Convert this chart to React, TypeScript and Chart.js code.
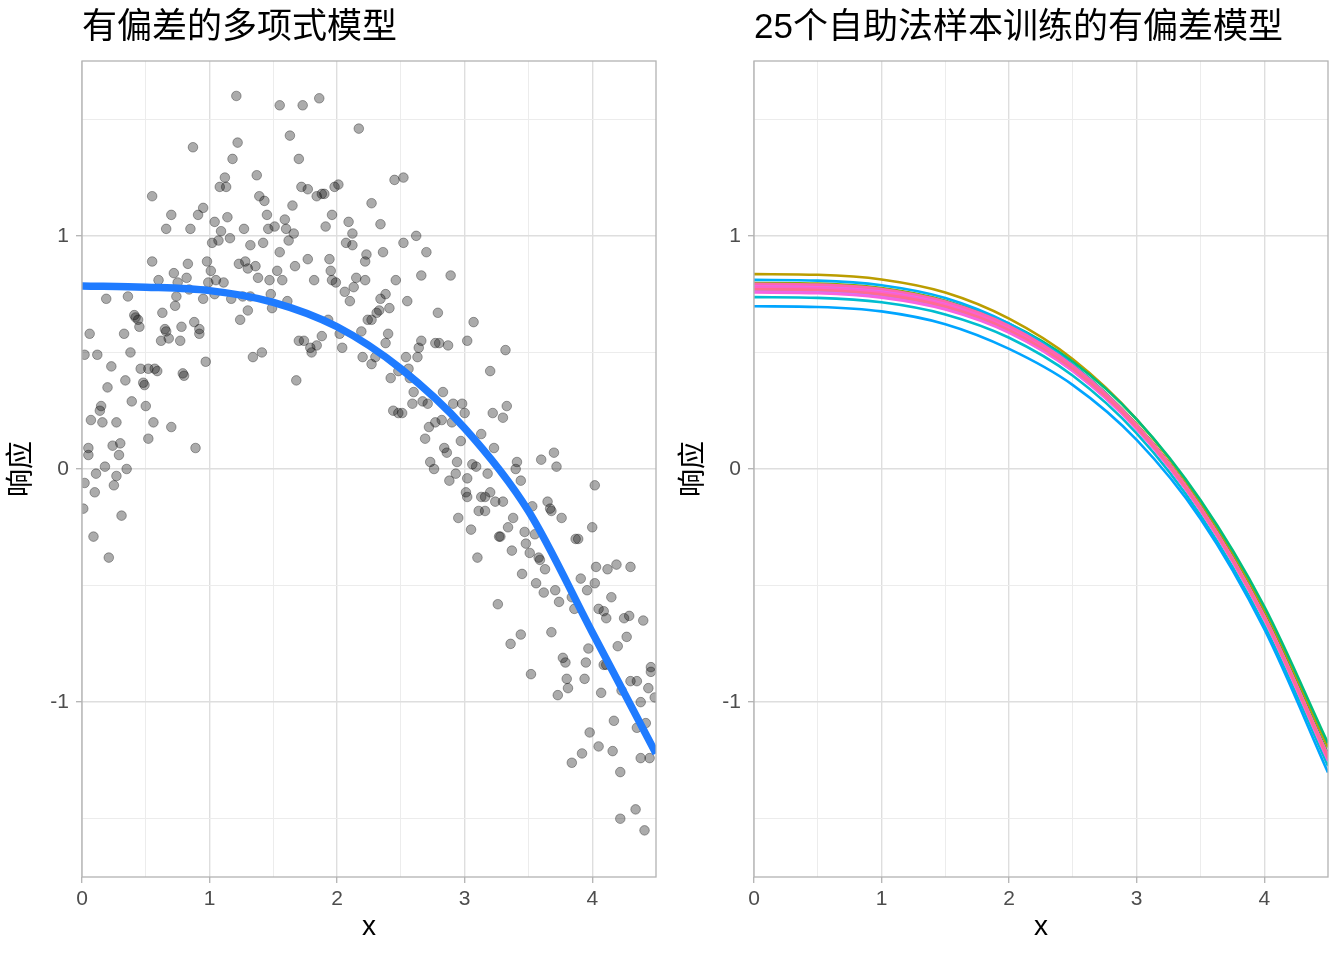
import React, { useEffect, useRef } from 'react';
import { Chart, registerables } from 'chart.js';

Chart.register(...registerables);

// ---------------- data ----------------
const scatterX = [
  0.55, 0.70, 0.66, 0.85, 0.91, 0.95, 1.04, 1.14, 1.09, 1.16, 1.07, 1.02, 1.27, 1.32, 1.42, 1.39, 1.43, 1.45, 1.46, 1.12,
  1.08, 1.13, 0.55, 0.72, 0.83, 0.82, 0.60, 0.75, 0.98, 1.01, 0.99, 1.05, 1.11, 1.23, 1.28, 1.30, 1.36, 1.38, 1.47, 0.74,
  0.73, 0.84, 0.95, 1.04, 1.17, 1.26, 1.32, 1.30, 1.24, 1.49, 0.19, 0.36, 0.41, 0.42, 0.44, 0.45, 0.63, 0.65, 0.66, 0.62,
  0.68, 0.78, 0.77, 0.88, 0.92, 0.92, 0.06, 0.33, 0.02, 0.12, 0.38, 0.23, 0.46, 0.52, 0.59, 0.57, 0.80, 0.79, 0.97, 0.34,
  0.20, 0.48, 0.49, 0.39, 0.50, 0.15, 0.14, 0.07, 0.16, 0.27, 0.56, 0.70, 0.52, 0.89, 0.05, 0.05, 0.24, 0.30, 0.29, 0.35,
  0.18, 0.11, 0.02, 0.27, 0.25, 0.10, 0.01, 0.31, 0.09, 0.21,
  1.21, 1.55, 1.73, 1.86, 2.17, 1.63, 0.87, 1.22, 1.18, 1.70, 1.37, 1.72, 1.77, 1.84, 1.88, 1.90, 1.98, 2.01, 2.27, 1.65,
  1.96, 1.91, 2.09, 2.12, 2.07, 2.12, 2.23, 2.22, 1.51, 1.59, 1.60, 1.62, 1.66, 1.55, 1.53, 1.57, 1.67, 1.77, 1.94, 1.95,
  1.82, 1.96, 1.99, 2.06, 2.10, 2.13, 2.15, 2.22, 1.48, 1.61, 1.70, 1.74, 1.79, 1.80, 1.84, 1.88, 1.68, 1.93, 2.02, 2.04,
  2.19, 2.20, 2.27, 2.24, 2.27, 2.31, 2.33, 1.34, 1.41,
  2.45, 2.52, 2.34, 2.52, 2.62, 2.70, 2.36, 2.46, 2.66, 2.89, 2.55, 2.79, 2.34, 2.38, 2.41, 2.40, 2.38, 2.30, 2.54, 2.63,
  2.64, 2.66, 2.77, 2.80, 2.87, 3.02, 2.42, 2.48, 2.56, 2.57, 2.60, 2.67, 2.71, 2.59, 2.83, 2.91, 2.98, 3.00, 2.44, 2.48,
  2.51, 2.82, 2.77, 2.72, 2.69, 2.90, 2.97, 2.84, 2.86, 2.73, 2.76, 2.94, 2.93, 3.07,
  3.32, 3.20, 3.22, 3.33, 3.30, 3.13, 3.23, 2.88, 3.02, 3.06, 3.09, 3.18, 3.20, 3.16, 3.24, 3.30, 3.01, 3.02, 3.13, 3.41,
  3.40, 3.44, 3.60, 3.70, 3.72, 4.02, 2.95, 3.05, 3.11, 3.16, 3.27, 3.28, 3.34, 3.38, 3.10, 3.37, 3.47, 3.55, 3.48, 3.51,
  3.65, 3.67, 3.68, 3.53, 3.76, 3.58, 3.59, 3.45, 3.63, 3.56, 3.62, 3.71, 3.74, 3.84, 3.86, 3.87, 3.89, 4.00, 3.91, 3.96,
  4.02, 4.03, 4.12, 4.19, 4.30, 4.15, 4.05, 4.09, 4.11, 4.25, 4.29, 4.40, 4.27, 4.20, 3.97, 3.95, 3.94, 3.77, 3.79, 3.80,
  3.81, 3.73, 4.11, 4.09, 3.52, 3.36, 3.44, 3.68, 3.26, 4.07, 4.30, 4.35, 4.44, 4.46, 4.46, 4.23, 4.38, 4.42, 4.35, 4.17,
  3.98, 4.05, 4.16, 3.92, 3.84, 4.22, 4.38, 4.45, 4.34, 4.22, 4.41, 4.49,
];
const scatterY = [
  1.17, 1.09, 1.03, 1.03, 1.09, 1.12, 1.06, 1.08, 1.02, 0.99, 0.98, 0.97, 1.03, 0.96, 0.97, 1.17, 1.15, 1.09, 1.03, 1.25,
  1.21, 1.21, 0.89, 0.84, 0.88, 0.82, 0.81, 0.80, 0.89, 0.85, 0.80, 0.81, 0.80, 0.88, 0.89, 0.86, 0.87, 0.82, 0.81, 0.74,
  0.70, 0.77, 0.73, 0.75, 0.73, 0.74, 0.74, 0.68, 0.64, 0.69, 0.73, 0.74, 0.66, 0.65, 0.64, 0.61, 0.67, 0.60, 0.59, 0.55,
  0.56, 0.61, 0.55, 0.63, 0.60, 0.58, 0.58, 0.58, 0.49, 0.49, 0.50, 0.44, 0.43, 0.43, 0.42, 0.43, 0.40, 0.41, 0.46, 0.38,
  0.35, 0.37, 0.36, 0.29, 0.27, 0.27, 0.25, 0.21, 0.20, 0.20, 0.20, 0.18, 0.13, 0.09, 0.09, 0.06, 0.10, 0.11, 0.06, 0.00,
  0.01, -0.02, -0.06, -0.03, -0.07, -0.10, -0.17, -0.20, -0.29, -0.38,
  1.60, 1.56, 1.56, 1.59, 1.46, 1.43, 1.38, 1.40, 1.33, 1.33, 1.26, 1.21, 1.20, 1.17, 1.18, 1.18, 1.21, 1.22, 1.14, 1.13,
  1.09, 1.04, 1.06, 1.01, 0.97, 0.96, 0.92, 0.89, 1.04, 1.07, 1.03, 0.98, 1.01, 0.93, 0.85, 0.81, 0.87, 0.90, 0.90, 0.85,
  0.81, 0.81, 0.80, 0.76, 0.72, 0.78, 0.82, 0.81, 0.75, 0.72, 0.55, 0.55, 0.52, 0.50, 0.53, 0.57, 0.38, 0.64, 0.58, 0.52,
  0.59, 0.48, 0.45, 0.64, 0.64, 0.67, 0.68, 0.48, 0.50,
  1.24, 1.25, 1.05, 0.97, 1.00, 0.93, 0.93, 0.81, 0.83, 0.83, 0.72, 0.67, 0.73, 0.75, 0.69, 0.58, 0.54, 0.48, 0.48, 0.48,
  0.52, 0.55, 0.54, 0.54, 0.53, 0.55, 0.39, 0.42, 0.43, 0.39, 0.33, 0.29, 0.28, 0.28, 0.33, 0.28, 0.28, 0.24, 0.25, 0.24,
  0.24, 0.21, 0.20, 0.18, 0.13, 0.20, 0.12, 0.09, 0.07, 0.03, 0.00, 0.03, -0.02, 0.63,
  0.51, 0.42, 0.24, 0.27, 0.22, 0.15, 0.09, -0.05, -0.04, 0.02, 0.01, -0.02, -0.10, -0.12, -0.14, -0.14, -0.10, -0.12, -0.12, 0.03,
  0.00, -0.05, 0.04, 0.07, 0.01, -0.07, -0.21, -0.26, -0.18, -0.18, -0.29, -0.29, -0.25, -0.21, -0.38, -0.35, -0.27, -0.28, -0.32, -0.36,
  -0.14, -0.17, -0.18, -0.16, -0.21, -0.38, -0.39, -0.45, -0.43, -0.49, -0.53, -0.52, -0.57, -0.55, -0.60, -0.30, -0.30, -0.25, -0.47, -0.52,
  -0.49, -0.42, -0.43, -0.41, -0.42, -0.55, -0.60, -0.61, -0.64, -0.64, -0.63, -0.65, -0.72, -0.76, -0.77, -0.83, -0.90, -0.81, -0.83, -0.90,
  -0.94, -0.97, -0.84, -0.84, -0.88, -0.75, -0.71, -0.70, -0.58, -0.96, -0.91, -0.91, -0.94, -0.85, -0.87, -0.95, -1.00, -1.09, -1.11, -1.08,
  -1.13, -1.19, -1.21, -1.22, -1.26, -1.30, -1.24, -1.24, -1.46, -1.50, -1.55, -0.98,
];

const curveX = [0, 0.5, 1, 1.5, 2, 2.5, 3, 3.5, 4, 4.5];
const fitY = [0.785, 0.780, 0.765, 0.715, 0.610, 0.430, 0.175, -0.180, -0.700, -1.220];

const bootCurves: number[][] = [
  [0.780, 0.777, 0.758, 0.705, 0.605, 0.439, 0.189, -0.160, -0.626, -1.228],
  [0.768, 0.765, 0.746, 0.694, 0.593, 0.426, 0.176, -0.174, -0.639, -1.238],
  [0.792, 0.789, 0.770, 0.716, 0.612, 0.442, 0.188, -0.164, -0.631, -1.232],
  [0.774, 0.771, 0.752, 0.700, 0.599, 0.432, 0.181, -0.170, -0.637, -1.240],
  [0.836, 0.833, 0.813, 0.757, 0.645, 0.471, 0.213, -0.142, -0.604, -1.194],
  [0.786, 0.783, 0.764, 0.711, 0.608, 0.439, 0.186, -0.166, -0.633, -1.236],
  [0.798, 0.795, 0.776, 0.722, 0.618, 0.446, 0.191, -0.161, -0.628, -1.226],
  [0.764, 0.761, 0.742, 0.690, 0.590, 0.424, 0.175, -0.175, -0.641, -1.242],
  [0.781, 0.778, 0.759, 0.707, 0.606, 0.438, 0.187, -0.163, -0.627, -1.222],
  [0.772, 0.769, 0.750, 0.698, 0.597, 0.430, 0.179, -0.172, -0.639, -1.240],
  [0.790, 0.787, 0.769, 0.718, 0.623, 0.460, 0.213, -0.133, -0.589, -1.176],
  [0.784, 0.781, 0.762, 0.709, 0.607, 0.438, 0.186, -0.165, -0.631, -1.230],
  [0.777, 0.774, 0.755, 0.702, 0.601, 0.433, 0.182, -0.169, -0.635, -1.236],
  [0.737, 0.734, 0.715, 0.663, 0.563, 0.400, 0.153, -0.198, -0.669, -1.274],
  [0.766, 0.763, 0.744, 0.692, 0.592, 0.426, 0.177, -0.173, -0.638, -1.240],
  [0.811, 0.808, 0.788, 0.733, 0.623, 0.447, 0.187, -0.168, -0.638, -1.244],
  [0.698, 0.695, 0.676, 0.621, 0.515, 0.360, 0.125, -0.213, -0.686, -1.302],
  [0.769, 0.766, 0.747, 0.695, 0.594, 0.427, 0.177, -0.173, -0.639, -1.242],
  [0.783, 0.780, 0.761, 0.708, 0.606, 0.437, 0.185, -0.166, -0.632, -1.232],
  [0.761, 0.758, 0.739, 0.687, 0.587, 0.421, 0.172, -0.177, -0.643, -1.248],
  [0.789, 0.786, 0.767, 0.713, 0.610, 0.440, 0.187, -0.165, -0.631, -1.230],
  [0.757, 0.754, 0.735, 0.684, 0.584, 0.419, 0.171, -0.178, -0.645, -1.252],
  [0.779, 0.776, 0.757, 0.704, 0.603, 0.435, 0.183, -0.168, -0.634, -1.235],
  [0.794, 0.791, 0.772, 0.718, 0.614, 0.443, 0.189, -0.163, -0.630, -1.228],
  [0.771, 0.768, 0.749, 0.697, 0.596, 0.429, 0.179, -0.171, -0.637, -1.240],
];

const xTickValues = [0, 0.5, 1, 1.5, 2, 2.5, 3, 3.5, 4];
const yTickValues = [-1.5, -1, -0.5, 0, 0.5, 1, 1.5];
const leftTitle = '有偏差的多项式模型';
const rightTitle = '25个自助法样本训练的有偏差模型';
const xTitle = 'x';
const yTitle = '响应';

// ---------------- styling helpers ----------------
const FONT = "'Liberation Sans', 'Noto Sans CJK SC', sans-serif";

function hueColor(h: number, c = 100, l = 65): string {
  const hr = (h * Math.PI) / 180;
  const u = c * Math.cos(hr);
  const v = c * Math.sin(hr);
  const Xn = 0.95047, Yn = 1.0, Zn = 1.08883;
  const un = (4 * Xn) / (Xn + 15 * Yn + 3 * Zn);
  const vn = (9 * Yn) / (Xn + 15 * Yn + 3 * Zn);
  const Y = l > 8 ? Yn * Math.pow((l + 16) / 116, 3) : (Yn * l) / 903.3;
  const up = u / (13 * l) + un;
  const vp = v / (13 * l) + vn;
  const X = (Y * 9 * up) / (4 * vp);
  const Z = (Y * (12 - 3 * up - 20 * vp)) / (4 * vp);
  const lin = [
    3.2406 * X - 1.5372 * Y - 0.4986 * Z,
    -0.9689 * X + 1.8758 * Y + 0.0415 * Z,
    0.0557 * X - 0.204 * Y + 1.057 * Z,
  ];
  const out = lin.map((t) => {
    const g = t <= 0.0031308 ? 12.92 * t : 1.055 * Math.pow(t, 1 / 2.4) - 0.055;
    return Math.round(Math.min(1, Math.max(0, g)) * 255);
  });
  return `rgb(${out[0]},${out[1]},${out[2]})`;
}

const isMajor = (v: number) => Math.abs(v - Math.round(v)) < 1e-9;

const panelTitlePlugin = {
  id: 'panelTitle',
  afterDraw(chart: any, _args: any, opts: any) {
    const { ctx, chartArea } = chart;
    ctx.save();
    ctx.font = `35px ${FONT}`;
    ctx.fillStyle = '#000000';
    ctx.textAlign = 'left';
    ctx.textBaseline = 'middle';
    ctx.fillText(opts.text, chartArea.left, 28);
    ctx.restore();
  },
};

const framePlugin = {
  id: 'panelFrame',
  afterDatasetsDraw(chart: any) {
    const { ctx, chartArea } = chart;
    ctx.save();
    ctx.strokeStyle = '#b3b3b3';
    ctx.lineWidth = 1.3;
    ctx.strokeRect(chartArea.left, chartArea.top, chartArea.right - chartArea.left, chartArea.bottom - chartArea.top);
    ctx.restore();
  },
};

function makeScale(axis: 'x' | 'y') {
  const tickVals = axis === 'x' ? xTickValues : yTickValues;
  return {
    type: 'linear',
    min: axis === 'x' ? 0 : -1.75,
    max: axis === 'x' ? 4.5 : 1.75,
    afterBuildTicks: (s: any) => {
      s.ticks = tickVals.map((v) => ({ value: v }));
    },
    afterFit: (s: any) => {
      if (axis === 'x') s.height = 83;
      else s.width = 82;
    },
    ticks: {
      autoSkip: false,
      maxRotation: 0,
      color: '#4d4d4d',
      font: { family: FONT, size: 21 },
      padding: axis === 'x' ? 4 : 7,
      callback: (v: any) => (isMajor(Number(v)) ? String(v) : ''),
    },
    grid: {
      color: (ctx: any) => (ctx.tick && isMajor(ctx.tick.value) ? '#dedede' : '#ececec'),
      lineWidth: (ctx: any) => (ctx.tick && isMajor(ctx.tick.value) ? 1.4 : 1),
      tickColor: (ctx: any) => (ctx.tick && isMajor(ctx.tick.value) ? '#b3b3b3' : 'rgba(0,0,0,0)'),
      tickLength: 6,
      tickWidth: 1.3,
      drawTicks: true,
    },
    border: { display: false },
    title: {
      display: true,
      text: axis === 'x' ? xTitle : yTitle,
      color: '#000000',
      font: { family: FONT, size: 28 },
      padding: axis === 'x' ? { top: 0, bottom: 16 } : { top: 5, bottom: 0 },
    },
  };
}

function makeOptions(title: string) {
  return {
    responsive: false,
    maintainAspectRatio: false,
    animation: false,
    devicePixelRatio: 1,
    layout: { padding: { top: 61, right: 16, bottom: 0, left: 0 } },
    plugins: {
      legend: { display: false },
      tooltip: { enabled: false },
      panelTitle: { text: title },
    },
    scales: { x: makeScale('x'), y: makeScale('y') },
  };
}

function toPoints(xs: number[], ys: number[]) {
  return xs.map((x, i) => ({ x, y: ys[i] }));
}

function Panel({ which }: { which: 'left' | 'right' }) {
  const ref = useRef<HTMLCanvasElement | null>(null);
  useEffect(() => {
    if (!ref.current) return;
    let datasets: any[];
    if (which === 'left') {
      datasets = [
        {
          type: 'line',
          data: toPoints(curveX, fitY),
          borderColor: '#1f7bff',
          borderWidth: 7.5,
          pointRadius: 0,
          showLine: true,
          fill: false,
          cubicInterpolationMode: 'monotone',
          borderCapStyle: 'butt',
          clip: 0,
          order: 0,
        },
        {
          type: 'scatter',
          data: toPoints(scatterX, scatterY),
          backgroundColor: 'rgba(0,0,0,0.33)',
          borderColor: 'rgba(0,0,0,0.33)',
          borderWidth: 1,
          pointRadius: 4.8,
          pointHoverRadius: 4.8,
          showLine: false,
          clip: 0,
          order: 1,
        },
      ];
    } else {
      const n = bootCurves.length;
      datasets = bootCurves.map((ys, i) => ({
        type: 'line',
        data: toPoints(curveX, ys),
        borderColor: hueColor(15 + (360 * i) / n),
        borderWidth: 2.6,
        pointRadius: 0,
        showLine: true,
        fill: false,
        cubicInterpolationMode: 'monotone',
        clip: 0,
        order: n - i,
      }));
    }
    const chart = new Chart(ref.current, {
      type: 'scatter',
      data: { datasets },
      options: makeOptions(which === 'left' ? leftTitle : rightTitle) as any,
      plugins: [panelTitlePlugin, framePlugin],
    } as any);
    return () => chart.destroy();
  }, [which]);
  return (
    <div style={{ width: 672, height: 960, position: 'relative' }}>
      <canvas ref={ref} width={672} height={960} style={{ width: 672, height: 960, display: 'block' }} />
    </div>
  );
}

export default function App() {
  return (
    <div
      style={{
        position: 'absolute',
        left: 0,
        top: 0,
        width: 1344,
        height: 960,
        display: 'flex',
        background: '#ffffff',
      }}
    >
      <Panel which="left" />
      <Panel which="right" />
    </div>
  );
}
